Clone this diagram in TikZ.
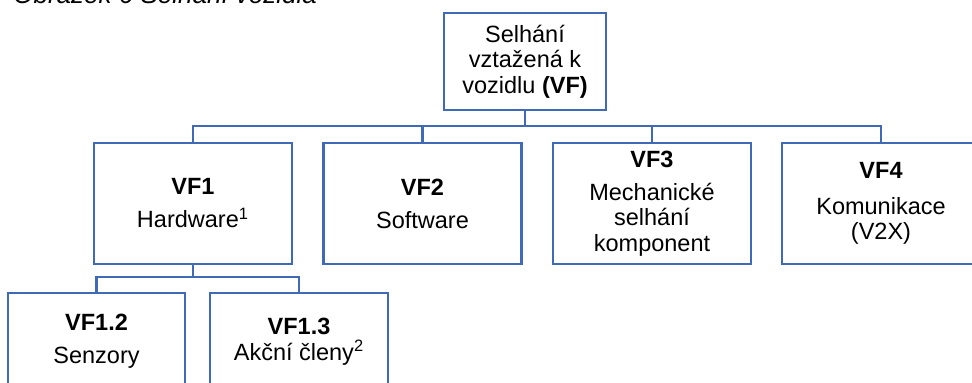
\documentclass[tikz,border=0pt]{standalone}
\usepackage{fontspec}
\setmainfont{Liberation Sans}
\usepackage{tikz}
\usetikzlibrary{positioning}
\definecolor{vfblue}{RGB}{64,106,182}

\begin{document}
\begin{tikzpicture}[x=0.5pt, y=-0.5pt,
    vfbox/.style={draw=vfblue, line width=1.2pt, align=center, inner sep=0pt,
        minimum width=99pt, minimum height=60.5pt,
        font=\fontsize{11.75}{12.75}\selectfont},
    link/.style={draw=vfblue, line width=1.2pt}]
    % ramecek stranky, titulek i spodni boxy jsou oriznute
    \clip (0,0) rectangle (972,383);

    % titulek obrazku (vidi se jen spodni pulka)
    \node[anchor=base west, inner sep=0pt, font=\fontsize{13}{15}\selectfont\itshape] (Cap) at (13,4) {Obrázek 6 Selhání vozidla};

    % koren
    \node[vfbox, minimum width=81pt, minimum height=48.5pt] (Root) at (525,61.5) {Selhání\\vztažená k\\vozidlu \textbf{(VF)}};

    % prvni uroven
    \node[vfbox] (VF1) at (193,203.5) {\textbf{VF1}\\[3.75pt]Hardware\textsuperscript{1}};
    \node[vfbox] (VF2) at (422.5,203.5) {\textbf{VF2}\\[3.75pt]Software};
    \node[vfbox] (VF3) at (652,203.5) {\textbf{VF3}\\[3.75pt]Mechanické\\selhání\\komponent};
    \node[vfbox] (VF4) at (881,203.5) {\textbf{VF4}\\[5.25pt]Komunikace\\(V2X)};

    % druha uroven pod VF1
    \node[vfbox, minimum width=88.5pt, minimum height=48.5pt] (VF12) at (96.5,341.5) {\textbf{VF1.2}\\[3.75pt]Senzory};
    \node[vfbox, minimum width=89pt, minimum height=48.5pt] (VF13) at (299,341.5) {\textbf{VF1.3}\\Akční členy\textsuperscript{2}};

    % sbernice
    \coordinate (Bus) at (0,126);
    \coordinate (SubBus) at (0,277);

    % spojnice koren -> prvni uroven
    \draw[link] (Root.south) -- (Root.south |- Bus);
    \draw[link] (VF1.north) |- (VF4.north |- Bus) -- (VF4.north);
    \draw[link] (VF2.north) -- (VF2.north |- Bus);
    \draw[link] (VF3.north) -- (VF3.north |- Bus);

    % spojnice VF1 -> druha uroven
    \draw[link] (VF1.south) -- (VF1.south |- SubBus);
    \draw[link] (VF12.north) |- (VF13.north |- SubBus) -- (VF13.north);
\end{tikzpicture}
\end{document}
